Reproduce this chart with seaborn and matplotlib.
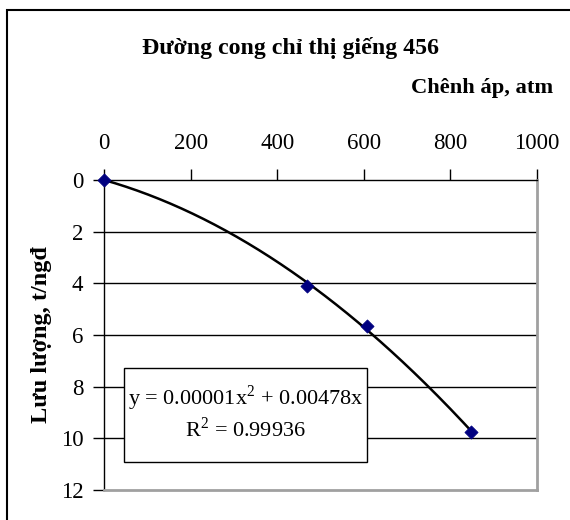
import numpy as np
import pandas as pd
import matplotlib
matplotlib.use("Agg")
import matplotlib.pyplot as plt
from matplotlib.patches import Rectangle
import seaborn as sns

# Data
chenh_ap = [0, 469, 607, 847]          # pressure drop, atm
luu_luong = [0, 4.1, 5.64, 9.74]       # flow rate, t/ngđ
x_ticks = [0, 200, 400, 600, 800, 1000]
y_ticks = [0, 2, 4, 6, 8, 10, 12]
eq_lines = ["y = 0.00001x$^{2}$ + 0.00478x", "R$^{2}$ = 0.99936"]

sns.set_theme(style="white")
plt.rcParams["font.family"] = ["Liberation Serif", "DejaVu Serif"]
plt.rcParams["mathtext.fontset"] = "custom"
plt.rcParams["mathtext.rm"] = "Liberation Serif"
for key in ["text.color", "axes.labelcolor", "xtick.color", "ytick.color"]:
    plt.rcParams[key] = "black"

df = pd.DataFrame({"x": chenh_ap, "y": luu_luong})

# polynomial trendline through the origin (like Excel, intercept = 0)
A = np.column_stack([df["x"] ** 2, df["x"]])
coef, *_ = np.linalg.lstsq(A, df["y"], rcond=None)
xs = np.linspace(0, max(chenh_ap), 200)
trend = pd.DataFrame({"x": xs, "y": coef[0] * xs ** 2 + coef[1] * xs})

fig = plt.figure(figsize=(5.7, 5.2), dpi=100)
ax = fig.add_axes([0.1825, 0.0577, 0.7596, 0.5962])

# gridlines
for t in y_ticks[1:-1]:
    ax.axhline(t, color="black", lw=1.0, zorder=1)

sns.lineplot(data=trend, x="x", y="y", ax=ax, color="black", lw=1.8, zorder=3)
sns.scatterplot(data=df, x="x", y="y", ax=ax, marker="D", color="#000080",
                s=45, edgecolor="#000080", zorder=4, clip_on=False)

ax.set_xlim(0, 1000)
ax.set_ylim(12, 0)
ax.set_xticks(x_ticks)
ax.set_yticks(y_ticks)
ax.xaxis.tick_top()
ax.tick_params(axis="x", direction="out", length=8, width=1, color="black",
               labelcolor="black", labelsize=16.5, pad=11)
ax.tick_params(axis="y", direction="out", length=8, width=1, color="black",
               labelcolor="black", labelsize=16.5, pad=7)
ax.tick_params(left=True, top=True, bottom=False, right=False)

for side in ["top", "left"]:
    ax.spines[side].set_color("black")
    ax.spines[side].set_linewidth(1.0)
for side in ["bottom", "right"]:
    ax.spines[side].set_color("#a0a0a0")
    ax.spines[side].set_linewidth(2.0)

ax.set_ylabel("Lưu lượng, t/ngđ", fontsize=17.5, fontweight="bold", color="black")
ax.yaxis.set_label_coords(-0.12, 0.5)
ax.set_xlabel("Chênh áp, atm", fontsize=16.2, fontweight="bold", ha="right",
              va="center", color="black")
ax.xaxis.set_label_position("top")
ax.xaxis.set_label_coords(1.037, 1.281)

# equation box
box = Rectangle((124 / 570, 1 - 462 / 520), (367 - 124) / 570, (462 - 368) / 520,
                transform=fig.transFigure, facecolor="white", edgecolor="black",
                lw=1.0, zorder=5)
fig.add_artist(box)
fig.text(245.5 / 570, 1 - 398 / 520, eq_lines[0], ha="center", va="center",
         fontsize=16, color="black", zorder=6)
fig.text(245.5 / 570, 1 - 430 / 520, eq_lines[1], ha="center", va="center",
         fontsize=16, color="black", zorder=6)

fig.text(290 / 570, 1 - 48 / 520, "Đường cong chỉ thị giếng 456", ha="center",
         va="center", fontsize=17.2, fontweight="bold", color="black")

# outer chart frame
frame = Rectangle((7 / 570, -0.05), 1.1, 1 - 10 / 520 + 0.05, transform=fig.transFigure,
                  fill=False, edgecolor="black", lw=1.5, zorder=10)
fig.add_artist(frame)

fig.savefig("out.png", dpi=100, facecolor="white")
